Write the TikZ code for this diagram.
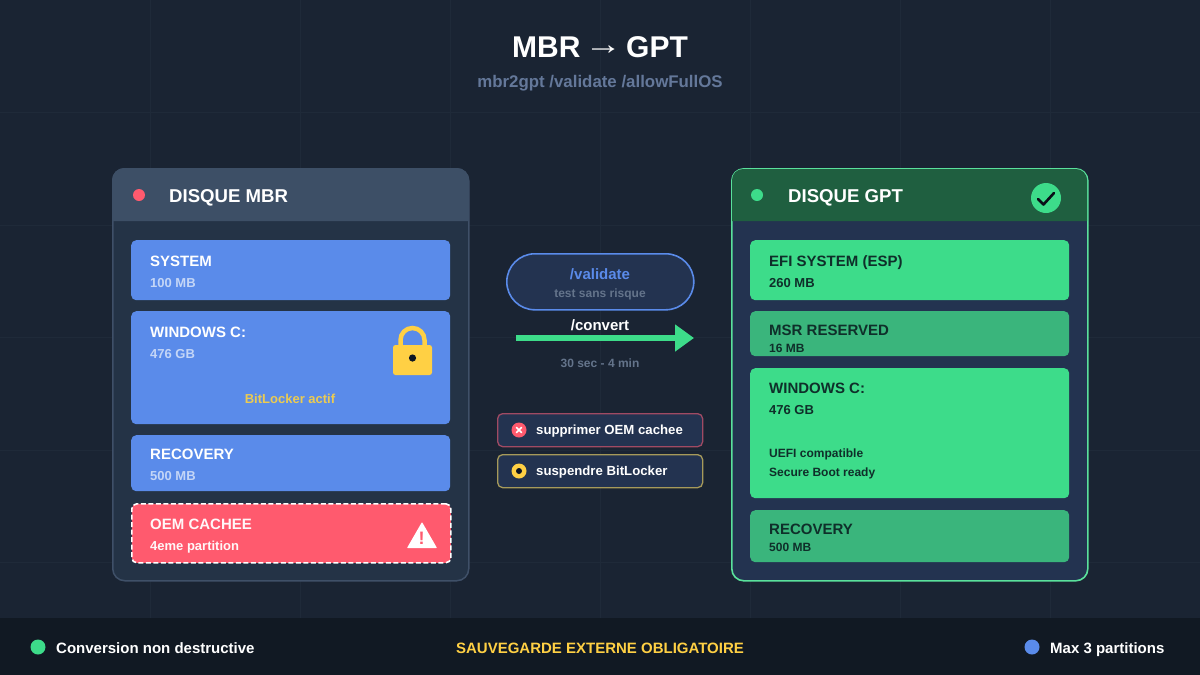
\documentclass[tikz,border=0pt]{standalone}
\usepackage{fontspec}
\setmainfont{Liberation Sans}
\usetikzlibrary{arrows.meta}
\definecolor{bgc}{HTML}{1A2433}
\definecolor{gridc}{HTML}{1F2A39}
\definecolor{footc}{HTML}{111923}
\definecolor{panL}{HTML}{243346}
\definecolor{panR}{HTML}{233350}
\definecolor{edgeL}{HTML}{3F5068}
\definecolor{headL}{HTML}{3D4F66}
\definecolor{headR}{HTML}{1F5F40}
\definecolor{greenc}{HTML}{3DDC8A}
\definecolor{greend}{HTML}{3AB57C}
\definecolor{bluec}{HTML}{5A8BEA}
\definecolor{redc}{HTML}{FF5A6E}
\definecolor{yelc}{HTML}{FFD044}
\definecolor{yeld}{HTML}{EBCB52}
\definecolor{inkd}{HTML}{0F2F2A}
\definecolor{subb}{HTML}{C4D6F7}
\definecolor{greyc}{HTML}{64748B}
\definecolor{titleg}{HTML}{64789A}
\definecolor{edgeX}{HTML}{A04A63}
\definecolor{edgeY}{HTML}{A69A5A}
\newcommand{\fsz}[1]{\fontsize{#1}{#1}\selectfont\bfseries}
\tikzset{
  x=1pt,y=-1pt,
  txt/.style={inner sep=0pt,anchor=base west,font=\fsz{#1}},
  ctxt/.style={inner sep=0pt,anchor=base,font=\fsz{#1}},
  part/.style={inner sep=0pt,rounded corners=5pt,anchor=north west},
  dotn/.style={circle,inner sep=0pt,minimum size=#1},
  chip/.style={inner sep=0pt,rounded corners=5pt,line width=1.3pt,fill=panR,minimum width=205pt,minimum height=33pt,anchor=north west},
}
\newcommand{\partbox}[6]{% name, x, y, h, fill, extra
  \node[part,fill=#5,minimum width=319pt,minimum height=#4pt,#6] (#1) at (#2,#3) {};}
\begin{document}
\begin{tikzpicture}
\useasboundingbox (0,0) rectangle (1200,675);
\fill[bgc] (0,0) rectangle (1200,675);
% grid
\foreach \gx in {150,300,...,1050} \draw[gridc,line width=1pt] (\gx,0) -- (\gx,618);
\foreach \gy in {112.5,225,337.5,450,562.5} \draw[gridc,line width=1pt] (0,\gy) -- (1200,\gy);
% title
\node[ctxt=30,white] (title) at (600,57) {MBR\hspace{4pt}\raisebox{3pt}{\scalebox{1.26}[1]{→}}\hspace{4pt}GPT};
\node[ctxt=16.85,titleg] (subtitle) at (600,87) {mbr2gpt /validate /allowFullOS};
% left panel
\node[inner sep=0pt,rounded corners=12pt,anchor=north west,minimum width=356pt,minimum height=412pt,fill=panL,draw=edgeL,line width=1.5pt] (mbr) at (112,168) {};
\fill[headL] (112,221) {[rounded corners=12pt] -- (112,168) -- (469,168)} -- (469,221) -- cycle;
\node[dotn=12pt,fill=redc] (mbrdot) at (139,195) {};
\node[txt=18.6,white] (mbrt) at (169,202) {DISQUE MBR};
\partbox{p1}{131}{240}{60}{bluec}{}
\partbox{p2}{131}{311}{113}{bluec}{}
\partbox{p3}{131}{435}{56}{bluec}{}
\partbox{p4}{131}{503}{59}{redc}{draw=white,dashed,line width=1.6pt,dash pattern=on 5pt off 2.5pt}
\node[txt=15,white] (p1a) at (150,266) {SYSTEM};
\node[txt=13,subb] (p1b) at (150,287) {100 MB};
\node[txt=15,white] (p2a) at (150,337) {WINDOWS C:};
\node[txt=13,subb] (p2b) at (150,358.5) {476 GB};
\node[ctxt=13,yeld] (p2c) at (290,403) {BitLocker actif};
\node[txt=15,white] (p3a) at (150,459) {RECOVERY};
\node[txt=13,subb] (p3b) at (150,480) {500 MB};
\node[txt=15,white!95!redc] (p4a) at (150,529) {OEM CACHEE};
\node[txt=13,white!95!redc] (p4b) at (150,550) {4eme partition};
% lock
\draw[yelc,line width=4.5pt] (400.5,347) -- (400.5,340) arc[start angle=180,end angle=360,radius=12] -- (424.5,347);
\fill[yelc,rounded corners=2.5pt] (393,345) rectangle (432,375);
\fill[black!85!bluec] (412.5,358) circle[radius=3.6];
% warning
\fill[white,rounded corners=.6pt] (422,522) -- (437,548) -- (407,548) -- cycle;
\node[ctxt=18,redc] (warnm) at (421.7,544.5) {!};
% centre
\node[inner sep=0pt,rounded corners=28pt,minimum width=187pt,minimum height=56pt,fill=panR,draw=bluec,line width=1.6pt,anchor=north west] (val) at (506,253) {};
\node[ctxt=15,bluec] (valt) at (600,279) {/validate};
\node[ctxt=12,greyc] (vals) at (600,297) {test sans risque};
\node[ctxt=15,white] (conv) at (600,330) {/convert};
\coordinate (arrowa) at (516,338);
\coordinate (arrowb) at (694,338);
\draw[greenc,line width=6pt,-{Triangle[length=19pt,width=26pt]}] (arrowa) -- (arrowb);
\node[ctxt=12,greyc] (time) at (600,367) {30 sec - 4 min};
\node[chip,draw=edgeX] (chip1) at (497,413) {};
\node[chip,draw=edgeY] (chip2) at (497,454) {};
\node[dotn=15pt,fill=redc] (c1) at (519,430) {};
\draw[white,line width=1.6pt,line cap=round] (516.5,427.5) -- (521.5,432.5) (521.5,427.5) -- (516.5,432.5);
\node[txt=13.2,white] (c1t) at (536,434) {supprimer OEM cachee};
\node[dotn=15pt,fill=yelc] (c2) at (519,471) {};
\fill[black!85!bluec] (c2) circle[radius=3];
\node[txt=13.2,white] (c2t) at (536,475) {suspendre BitLocker};
% right panel
\node[inner sep=0pt,rounded corners=12pt,anchor=north west,minimum width=356pt,minimum height=412pt,fill=panR,draw=greenc!85!white,line width=1.6pt] (gpt) at (731,168) {};
\fill[headR] (732,221) {[rounded corners=11pt] -- (732,169) -- (1087,169)} -- (1087,221) -- cycle;
\node[dotn=12pt,fill=greenc] (gptdot) at (757,195) {};
\node[txt=18.6,white] (gptt) at (788,202) {DISQUE GPT};
\node[dotn=30pt,fill=greenc] (chk) at (1046,198) {};
\draw[black!70!panR,line width=2.6pt,line cap=round,line join=round] (1038,199) -- (1043.5,204.5) -- (1054,193);
\partbox{g1}{750}{240}{60}{greenc}{}
\partbox{g2}{750}{311}{45}{greend}{}
\partbox{g3}{750}{368}{130}{greenc}{}
\partbox{g4}{750}{510}{52}{greend}{}
\node[txt=15,inkd] (g1a) at (769,266) {EFI SYSTEM (ESP)};
\node[txt=13,inkd] (g1b) at (769,287) {260 MB};
\node[txt=15,inkd] (g2a) at (769,335) {MSR RESERVED};
\node[txt=12,inkd] (g2b) at (769,352) {16 MB};
\node[txt=15,inkd] (g3a) at (769,393) {WINDOWS C:};
\node[txt=13,inkd] (g3b) at (769,414) {476 GB};
\node[txt=12,inkd] (g3c) at (769,457) {UEFI compatible};
\node[txt=12,inkd] (g3d) at (769,476) {Secure Boot ready};
\node[txt=15,inkd] (g4a) at (769,534) {RECOVERY};
\node[txt=12,inkd] (g4b) at (769,551) {500 MB};
% footer
\fill[footc] (0,618) rectangle (1200,675);
\node[dotn=15pt,fill=greenc] (f1) at (38,647) {};
\node[txt=15,white] (f1t) at (56,653) {Conversion non destructive};
\node[ctxt=15,yelc] (f2t) at (600,653) {SAUVEGARDE EXTERNE OBLIGATOIRE};
\node[dotn=15pt,fill=bluec] (f3) at (1032,647) {};
\node[txt=15,white] (f3t) at (1050,653) {Max 3 partitions};
\end{tikzpicture}
\end{document}
